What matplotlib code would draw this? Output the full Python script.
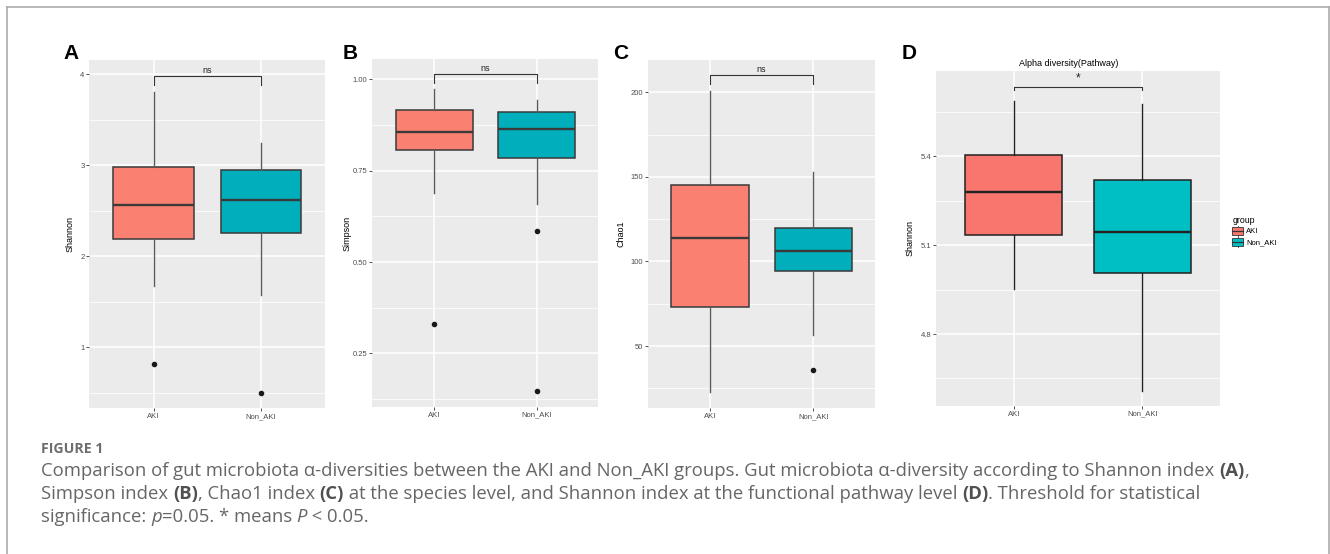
import matplotlib
matplotlib.use('Agg')
import matplotlib.pyplot as plt
from matplotlib.lines import Line2D
from matplotlib.patches import Rectangle
from matplotlib.legend_handler import HandlerBase

W, H, DPI = 1330, 554, 100

# ---------------- data ----------------
groups = ['AKI', 'Non_AKI']

# A: Shannon index (species level)
a_lower = [1.67, 1.57]
a_q1 = [2.19, 2.26]
a_median = [2.56, 2.62]
a_q3 = [2.98, 2.95]
a_upper = [3.81, 3.25]
a_outliers = [[0.82], [0.50]]
a_ticks = [1, 2, 3, 4]
a_tick_labels = ['1', '2', '3', '4']
a_sig = 'ns'
a_bracket = [3.88, 3.985]

# B: Simpson index
b_lower = [0.689, 0.660]
b_q1 = [0.806, 0.785]
b_median = [0.856, 0.865]
b_q3 = [0.915, 0.910]
b_upper = [0.973, 0.943]
b_outliers = [[0.330], [0.584, 0.147]]
b_ticks = [0.25, 0.50, 0.75, 1.00]
b_tick_labels = ['0.25', '0.50', '0.75', '1.00']
b_sig = 'ns'
b_bracket = [0.989, 1.015]

# C: Chao1 index
c_lower = [23.0, 56.7]
c_q1 = [72.8, 94.3]
c_median = [113.8, 105.9]
c_q3 = [145.5, 119.5]
c_upper = [201.0, 153.0]
c_outliers = [[], [35.8]]
c_ticks = [50, 100, 150, 200]
c_tick_labels = ['50', '100', '150', '200']
c_sig = 'ns'
c_bracket = [204.7, 210.2]

# D: Shannon index (functional pathway level)
d_lower = [4.952, 4.609]
d_q1 = [5.134, 5.006]
d_median = [5.279, 5.144]
d_q3 = [5.404, 5.319]
d_upper = [5.586, 5.577]
d_outliers = [[], []]
d_ticks = [4.8, 5.1, 5.4]
d_tick_labels = ['4.8', '5.1', '5.4']
d_sig = '*'
d_bracket = [5.624, 5.635]

# ---------------- style ----------------
PLOT_FONT = 'Liberation Sans'
CAP_FONT = 'Open Sans'
colors_abc = ['#FA8072', '#00AFBB']
colors_d = ['#F8766D', '#00BFC4']


def px2fig(x, y):
    return x / W, 1 - y / H


fig = plt.figure(figsize=(W / DPI, H / DPI), dpi=DPI)
fig.patch.set_facecolor('white')


def make_ax(l, t, r, b):
    x0, y1 = px2fig(l, t)
    x1, y0 = px2fig(r, b)
    return fig.add_axes([x0, y0, x1 - x0, y1 - y0])


def draw_panel(ax, lower, q1, med, q3, upper, outs, colors, ylim, ticks, ticklabels,
               minor, ylabel, label_x_px, ax_left, ax_w, sig, bracket, edge, whisk,
               sig_size, sig_pad):
    ax.set_facecolor('#EBEBEB')
    for s in ax.spines.values():
        s.set_visible(False)
    stats = []
    for i in range(len(groups)):
        stats.append(dict(whislo=lower[i], q1=q1[i], med=med[i], q3=q3[i],
                          whishi=upper[i], fliers=outs[i], label=groups[i]))
    bp = ax.bxp(stats, positions=[1, 2], widths=0.75, patch_artist=True, showcaps=False,
                boxprops=dict(edgecolor=edge, linewidth=1.1),
                whiskerprops=dict(color=whisk, linewidth=1.0),
                medianprops=dict(color=edge, linewidth=1.7),
                flierprops=dict(marker='o', markerfacecolor='#1a1a1a', markeredgecolor='#1a1a1a',
                                markersize=3.0, linestyle='none'),
                zorder=3)
    for patch, c in zip(bp['boxes'], colors):
        patch.set_facecolor(c)
    ax.set_xlim(0.4, 2.6)
    ax.set_ylim(*ylim)
    ax.set_xticks([1, 2])
    ax.set_xticklabels(groups)
    ax.set_yticks(ticks)
    ax.set_yticklabels(ticklabels)
    ax.set_yticks(minor, minor=True)
    ax.grid(True, which='major', color='white', linewidth=1.1)
    ax.grid(True, which='minor', axis='y', color='white', linewidth=0.55)
    ax.set_axisbelow(True)
    ax.tick_params(which='major', length=2.0, width=0.6, color='#333333', labelsize=5.5,
                   labelcolor='#4D4D4D', pad=1.5)
    ax.tick_params(which='minor', length=0)
    for lab in ax.get_xticklabels() + ax.get_yticklabels():
        lab.set_fontfamily(PLOT_FONT)
    ax.set_ylabel(ylabel, fontsize=6.5, family=PLOT_FONT, color='black')
    ax.yaxis.set_label_coords((label_x_px - ax_left) / ax_w, 0.5)
    # significance bracket
    lo, hi = bracket
    ax.plot([1, 1, 2, 2], [lo, hi, hi, lo], color='#333333', linewidth=0.8, zorder=4)
    ax.annotate(sig, xy=(1.5, hi), xytext=(0, sig_pad), textcoords='offset points',
                ha='center', va='bottom', fontsize=sig_size, family=PLOT_FONT, color='#222222')


# panel A
axA = make_ax(89.3, 60, 325, 408)
draw_panel(axA, a_lower, a_q1, a_median, a_q3, a_upper, a_outliers, colors_abc,
           (0.333, 4.157), a_ticks, a_tick_labels, [0.5, 1.5, 2.5, 3.5], 'Shannon',
           75, 89.3, 325 - 89.3, a_sig, a_bracket, '#3a3a3a', '#5a5a5a', 6.5, 0.8)
# panel B
axB = make_ax(372.4, 59.3, 598.3, 406.7)
draw_panel(axB, b_lower, b_q1, b_median, b_q3, b_upper, b_outliers, colors_abc,
           (0.104, 1.055), b_ticks, b_tick_labels, [0.125, 0.375, 0.625, 0.875], 'Simpson',
           352, 372.4, 598.3 - 372.4, b_sig, b_bracket, '#3a3a3a', '#5a5a5a', 6.5, 0.8)
# panel C
axC = make_ax(648, 60, 875.3, 408.3)
draw_panel(axC, c_lower, c_q1, c_median, c_q3, c_upper, c_outliers, colors_abc,
           (13.2, 219.1), c_ticks, c_tick_labels, [25, 75, 125, 175], 'Chao1',
           626, 648, 875.3 - 648, c_sig, c_bracket, '#3a3a3a', '#5a5a5a', 6.5, 0.8)
# panel D
axD = make_ax(936.5, 70.7, 1219.5, 405.7)
draw_panel(axD, d_lower, d_q1, d_median, d_q3, d_upper, d_outliers, colors_d,
           (4.558, 5.689), d_ticks, d_tick_labels, [4.65, 4.95, 5.25, 5.55], 'Shannon',
           915, 936.5, 1219.5 - 936.5, d_sig, d_bracket, '#222222', '#222222', 8.5, 1.5)
fig.text(*px2fig(1069, 63), 'Alpha diversity(Pathway)', ha='center', va='center',
         fontsize=6.5, family=PLOT_FONT, color='black')

# panel letters
for letter, x in zip(['A', 'B', 'C', 'D'], [63, 343, 613, 902]):
    fig.text(*px2fig(x, 59), letter, ha='left', va='baseline', fontsize=15,
             fontweight='bold', family=PLOT_FONT, color='black')


# legend with boxplot-like keys
class BoxKey(HandlerBase):
    def create_artists(self, legend, orig_handle, xdescent, ydescent, width, height, fontsize, trans):
        fc = orig_handle.get_facecolor()
        x0, y0 = -xdescent, -ydescent
        bh = height * 0.72
        by = y0 + (height - bh) / 2
        rect = Rectangle((x0, by), width, bh, facecolor=fc, edgecolor='#333333', linewidth=0.6,
                         transform=trans)
        med = Line2D([x0, x0 + width], [y0 + height / 2] * 2, color='#333333', linewidth=0.9,
                     transform=trans)
        w1 = Line2D([x0 + width / 2] * 2, [y0, by], color='#333333', linewidth=0.6, transform=trans)
        w2 = Line2D([x0 + width / 2] * 2, [by + bh, y0 + height], color='#333333', linewidth=0.6,
                    transform=trans)
        return [w1, w2, rect, med]


handles = [Rectangle((0, 0), 1, 1, facecolor=c) for c in colors_d]
leg = fig.legend(handles, groups, title='group', loc='upper left',
                 bbox_to_anchor=px2fig(1227, 211), frameon=False,
                 handler_map={Rectangle: BoxKey()}, prop={'family': PLOT_FONT, 'size': 5.5},
                 handlelength=1.4, handleheight=1.75, handletextpad=0.45, labelspacing=0.05,
                 borderpad=0.2, alignment='left')
leg.get_title().set_fontsize(6.3)
leg.get_title().set_family(PLOT_FONT)

# outer frame
for xs, ys in [([7, 7], [7, 554]), ([7, 1329], [7, 7]), ([1329, 1329], [7, 554])]:
    fig.add_artist(Line2D([x / W for x in xs], [1 - y / H for y in ys], color='#ababab',
                          linewidth=1.2, transform=fig.transFigure))

# ---------------- caption ----------------
fig.text(*px2fig(41, 453), 'FIGURE 1', ha='left', va='baseline', fontsize=10.2,
         fontweight='bold', family=CAP_FONT, color='#6e6e6e')

cap_lines = [
    [('Comparison of gut microbiota \u03b1-diversities between the AKI and Non_AKI groups. '
      'Gut microbiota \u03b1-diversity according to Shannon index ', 'normal'), ('(A)', 'bold'), (',', 'normal')],
    [('Simpson index ', 'normal'), ('(B)', 'bold'), (', Chao1 index ', 'normal'), ('(C)', 'bold'),
     (' at the species level, and Shannon index at the functional pathway level ', 'normal'),
     ('(D)', 'bold'), ('. Threshold for statistical', 'normal')],
    [('significance: ', 'normal'), ('p', 'italic'), ('=0.05. * means ', 'normal'), ('P', 'italic'),
     (' < 0.05.', 'normal')],
]
cap_baselines = [476, 499, 522]
CAP_SIZE = 13.3
CAP_COLOR = '#666666'

fig.canvas.draw()
renderer = fig.canvas.get_renderer()


def run_kwargs(style):
    kw = dict(fontsize=CAP_SIZE, family=CAP_FONT, color=CAP_COLOR)
    if style == 'bold':
        kw['fontweight'] = 'bold'
        kw['color'] = '#505050'
    elif style == 'italic':
        kw['fontstyle'] = 'italic'
    return kw


def run_width(text, style):
    kw = run_kwargs(style)
    t1 = fig.text(0, 0, 'X' + text + 'X', **kw)
    t2 = fig.text(0, 0, 'XX', **kw)
    w = t1.get_window_extent(renderer).width - t2.get_window_extent(renderer).width
    t1.remove()
    t2.remove()
    return w


for runs, yb in zip(cap_lines, cap_baselines):
    x = 41.0
    for text, style in runs:
        fig.text(*px2fig(x, yb), text, ha='left', va='baseline', **run_kwargs(style))
        x += run_width(text, style)

fig.savefig('out.png', dpi=DPI, facecolor='white')
